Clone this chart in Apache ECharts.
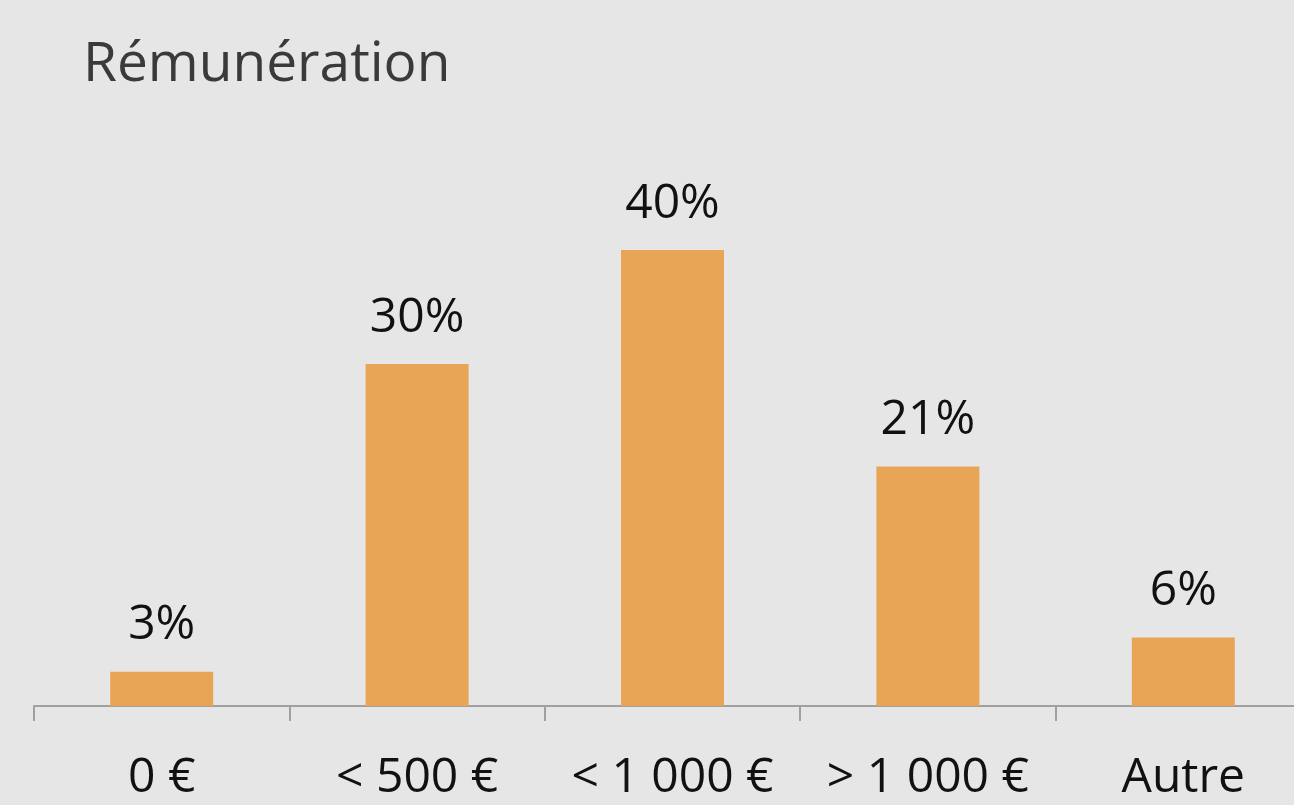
<!DOCTYPE html>
<html>
<head>
<meta charset="utf-8">
<script src="https://cdn.jsdelivr.net/npm/echarts@6/dist/echarts.min.js"></script>
<style>
  html, body { margin: 0; padding: 0; background: #e6e6e6; overflow: hidden; }
  /* la dernière catégorie déborde à droite : le conteneur est un peu plus large que la fenêtre */
  #chart { width: 1311px; height: 805px; }
</style>
</head>
<body>
<div id="chart"></div>
<script>
// données
const categories = ["0 €", "< 500 €", "< 1 000 €", "> 1 000 €", "Autre"];
const values = [3, 30, 40, 21, 6];

const myChart = echarts.init(document.getElementById("chart"));

const option = {
  backgroundColor: "#e6e6e6",
  title: {
    text: "Rémunération",
    left: 78,
    top: 33,
    textStyle: { fontFamily: "Open Sans", fontSize: 55, fontWeight: "normal", color: "#3a3a3a" }
  },
  grid: { left: 34, right: 0, top: 136, bottom: 99 },
  xAxis: {
    type: "category",
    data: categories,
    axisLine: { lineStyle: { color: "#a0a0a0", width: 2 } },
    axisTick: { show: true, interval: 0, length: 15, lineStyle: { color: "#a0a0a0", width: 2 } },
    axisLabel: {
      interval: 0,
      margin: 48,
      fontFamily: "Open Sans",
      fontSize: 48,
      color: "#111"
    }
  },
  yAxis: {
    type: "value",
    min: 0,
    max: 50,
    show: false,
    splitLine: { show: false }
  },
  series: [
    {
      type: "bar",
      data: values,
      barWidth: 103,
      itemStyle: { color: "#e8a555" },
      label: {
        show: true,
        position: "top",
        distance: 22,
        formatter: "{c}%",
        fontFamily: "Open Sans",
        fontSize: 48,
        color: "#111"
      }
    }
  ]
};

myChart.setOption(option);
</script>
</body>
</html>
